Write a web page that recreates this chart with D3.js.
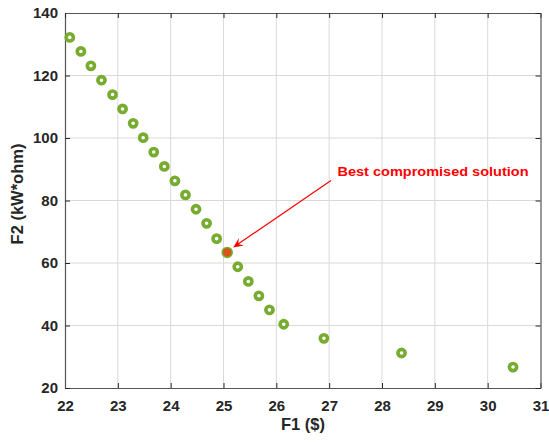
<!DOCTYPE html>
<html>
<head>
<meta charset="utf-8">
<script src="https://cdn.jsdelivr.net/npm/d3@7"></script>
<style>
  html, body { margin: 0; padding: 0; background: #fff; }
  svg { display: block; }
  text { font-family: Arial, "Liberation Sans", sans-serif; }
</style>
</head>
<body>
<svg id="chart" width="549" height="442"></svg>
<script>
// Pareto front: F1 cost ($) vs F2 (kW*ohm)
const f1 = [22.09, 22.30, 22.49, 22.69, 22.90, 23.09, 23.29, 23.48, 23.68, 23.88,
            24.08, 24.28, 24.48, 24.68, 24.87, 25.07, 25.27, 25.47, 25.67, 25.87,
            26.14, 26.90, 28.37, 30.48];
const f2 = [132.2, 127.7, 123.1, 118.5, 113.9, 109.3, 104.7, 100.1, 95.5, 90.9,
            86.3, 81.8, 77.2, 72.7, 67.8, 63.4, 58.8, 54.1, 49.5, 45.0,
            40.4, 35.9, 31.2, 26.7];
const bestIndex = 15;
const xTicks = [22, 23, 24, 25, 26, 27, 28, 29, 30, 31];
const yTicks = [20, 40, 60, 80, 100, 120, 140];
const annotation = "Best compromised solution";

const svg = d3.select("#chart");
const m = { left: 65, top: 13, right: 540.5, bottom: 388 };

const x = d3.scaleLinear().domain([22, 31]).range([m.left, m.right]);
const y = d3.scaleLinear().domain([20, 140]).range([m.bottom, m.top]);

// grid
const grid = svg.append("g").attr("stroke", "#d9d9d9").attr("stroke-width", 1);
grid.selectAll(".gx").data(xTicks.slice(1, -1)).join("line")
  .attr("x1", d => x(d)).attr("x2", d => x(d))
  .attr("y1", m.top).attr("y2", m.bottom);
grid.selectAll(".gy").data(yTicks.slice(1, -1)).join("line")
  .attr("y1", d => y(d)).attr("y2", d => y(d))
  .attr("x1", m.left).attr("x2", m.right);

// axes (ticks pointing inward, boxed)
const tickLen = 5;
const axisColor = "#262626";
const xAxis = svg.append("g").attr("transform", `translate(0,${m.bottom})`)
  .call(d3.axisBottom(x).tickValues(xTicks).tickSize(-tickLen).tickPadding(12).tickSizeOuter(0));
const yAxis = svg.append("g").attr("transform", `translate(${m.left},0)`)
  .call(d3.axisLeft(y).tickValues(yTicks).tickSize(-tickLen).tickPadding(7).tickSizeOuter(0));
const xTop = svg.append("g").attr("transform", `translate(0,${m.top})`)
  .call(d3.axisTop(x).tickValues(xTicks).tickSize(-tickLen).tickFormat("").tickSizeOuter(0));
const yRight = svg.append("g").attr("transform", `translate(${m.right},0)`)
  .call(d3.axisRight(y).tickValues(yTicks).tickSize(-tickLen).tickFormat("").tickSizeOuter(0));

[xAxis, yAxis, xTop, yRight].forEach(g => {
  g.select(".domain").attr("stroke", "#555").attr("stroke-width", 1.2);
  g.selectAll(".tick line").attr("stroke", axisColor).attr("stroke-width", 1);
  g.selectAll(".tick text").attr("fill", axisColor)
    .style("font-size", "15px").style("font-weight", "bold");
});

// axis titles
svg.append("text").attr("x", 303).attr("y", 430)
  .attr("text-anchor", "middle").attr("fill", axisColor)
  .style("font-size", "16.5px").style("font-weight", "bold").text("F1 ($)");
svg.append("text").attr("transform", "translate(23,194) rotate(-90)")
  .attr("text-anchor", "middle").attr("fill", axisColor)
  .style("font-size", "16.5px").style("font-weight", "bold").text("F2 (kW*ohm)");

// points
const pts = f1.map((v, i) => ({ f1: v, f2: f2[i], best: i === bestIndex }));
svg.append("g").selectAll("circle").data(pts).join("circle")
  .attr("cx", d => x(d.f1)).attr("cy", d => y(d.f2))
  .attr("r", d => d.best ? 4.9 : 3.6)
  .attr("fill", d => d.best ? "#D95319" : "#ffffff")
  .attr("stroke", "#77AC30")
  .attr("stroke-width", d => d.best ? 1.7 : 3.6);

// annotation arrow
const best = pts[bestIndex];
const tx = 331, ty = 180.5;
const hx = x(best.f1) + 6, hy = y(best.f2) - 5;
const ang = Math.atan2(hy - ty, hx - tx);
svg.append("line").attr("x1", tx).attr("y1", ty).attr("x2", hx - 5 * Math.cos(ang)).attr("y2", hy - 5 * Math.sin(ang))
  .attr("stroke", "#ff0000").attr("stroke-width", 1.2);
const hl = 10, hw = 4.5;
const bx = hx - hl * Math.cos(ang), by = hy - hl * Math.sin(ang);
const head = [
  [hx, hy],
  [bx + hw * Math.sin(ang), by - hw * Math.cos(ang)],
  [hx - 0.6 * hl * Math.cos(ang), hy - 0.6 * hl * Math.sin(ang)],
  [bx - hw * Math.sin(ang), by + hw * Math.cos(ang)]
];
svg.append("path").attr("d", d3.line()(head) + "Z").attr("fill", "#ff0000");

svg.append("text").attr("x", 337.5).attr("y", 176)
  .attr("fill", "#ff0000").style("font-size", "13.5px").style("font-weight", "bold")
  .attr("textLength", 191).attr("lengthAdjust", "spacingAndGlyphs")
  .text(annotation);
</script>
</body>
</html>
